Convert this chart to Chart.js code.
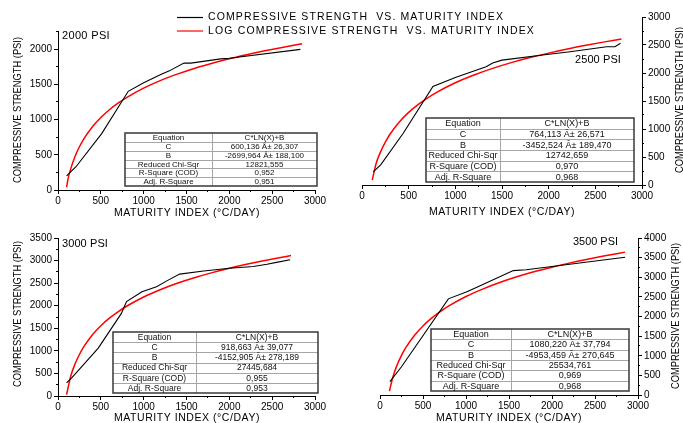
<!DOCTYPE html>
<html>
<head>
<meta charset="utf-8">
<script src="https://cdn.jsdelivr.net/npm/chart.js@4.4.0/dist/chart.umd.min.js"></script>
<style>
    html, body { margin: 0; padding: 0; background: #fff; }
    #wrap { position: relative; width: 683px; height: 423px; overflow: hidden; }
    #wrap canvas { position: absolute; left: 0; top: 0; }
</style>
</head>
<body>
<div id="wrap">
    <canvas id="c2000" width="683" height="423"></canvas>
    <canvas id="c2500" width="683" height="423"></canvas>
    <canvas id="c3000" width="683" height="423"></canvas>
    <canvas id="c3500" width="683" height="423"></canvas>
</div>
<script>
(function () {
    "use strict";

    // Measured compressive strength vs maturity index (black lines)
    const mi2000 = [100, 210, 510, 820, 1000, 1200, 1300, 1470, 1550, 1900, 2000, 2830];
    const cs2000 = [200, 330, 800, 1400, 1520, 1640, 1690, 1800, 1800, 1860, 1870, 1995];
    const mi2500 = [120, 200, 440, 760, 1000, 1260, 1330, 1400, 1500, 1980, 2230, 2620, 2710, 2770];
    const cs2500 = [235, 360, 920, 1760, 1920, 2070, 2110, 2180, 2230, 2330, 2380, 2470, 2470, 2530];
    const mi3000 = [100, 160, 470, 740, 800, 980, 1150, 1270, 1420, 1700, 2000, 2280, 2440, 2550, 2710];
    const cs3000 = [290, 400, 1060, 1830, 2090, 2310, 2420, 2550, 2700, 2770, 2830, 2870, 2920, 2960, 3020];
    const mi3500 = [115, 250, 795, 1010, 1120, 1550, 1700, 2850];
    const cs3500 = [340, 720, 2450, 2630, 2740, 3170, 3190, 3510];

    // Log fit curves (red lines)
    const fitMi2000 = [100, 120, 150, 200, 250, 300, 400, 500, 600, 700, 800, 1000, 1200, 1400, 1600, 1800, 2000, 2200, 2400, 2600, 2850];
    const fitCs2000 = [40, 172, 307, 479, 613, 723, 895, 1029, 1139, 1231, 1312, 1445, 1555, 1647, 1728, 1798, 1861, 1918, 1971, 2019, 2074];
    const fitMi2500 = [110, 150, 200, 250, 300, 400, 500, 600, 700, 800, 1000, 1200, 1400, 1600, 1800, 2000, 2200, 2400, 2600, 2780];
    const fitCs2500 = [90, 376, 596, 766, 906, 1125, 1296, 1435, 1553, 1655, 1826, 1965, 2083, 2185, 2275, 2355, 2428, 2494, 2556, 2607];
    const fitMi3000 = [100, 150, 200, 250, 300, 400, 500, 600, 700, 800, 1000, 1200, 1400, 1600, 1800, 2000, 2200, 2400, 2600, 2720];
    const fitCs3000 = [30, 450, 714, 919, 1087, 1351, 1556, 1724, 1865, 1988, 2193, 2360, 2502, 2625, 2733, 2830, 2917, 2997, 3070, 3112];
    const fitMi3500 = [110, 150, 200, 250, 300, 400, 500, 600, 700, 800, 1000, 1200, 1400, 1600, 1800, 2000, 2200, 2400, 2600, 2850];
    const fitCs3500 = [100, 460, 770, 1011, 1208, 1518, 1760, 1957, 2123, 2268, 2509, 2705, 2872, 3017, 3144, 3257, 3360, 3454, 3540, 3640];

    // Tick labels
    const xTicks = [0, 500, 1000, 1500, 2000, 2500, 3000];
    const yTicks2000 = [0, 500, 1000, 1500, 2000];
    const yTicks2500 = [0, 500, 1000, 1500, 2000, 2500, 3000];
    const yTicks3000 = [0, 500, 1000, 1500, 2000, 2500, 3000, 3500];
    const yTicks3500 = [0, 500, 1000, 1500, 2000, 2500, 3000, 3500, 4000];

    // Fit tables
    const tableRows = ["Equation", "C", "B", "Reduced Chi-Sqr", "R-Square (COD)", "Adj. R-Square"];
    const table2000 = ["C*LN(X)+B", "600,136 Â± 26,307", "-2699,964 Â± 188,100", "12821,555", "0,952", "0,951"];
    const table2500 = ["C*LN(X)+B", "764,113 Â± 26,571", "-3452,524 Â± 189,470", "12742,659", "0,970", "0,968"];
    const table3000 = ["C*LN(X)+B", "918,663 Â± 39,077", "-4152,905 Â± 278,189", "27445,684", "0,955", "0,953"];
    const table3500 = ["C*LN(X)+B", "1080,220 Â± 37,794", "-4953,459 Â± 270,645", "25534,761", "0,969", "0,968"];

    const legendLabels = ["COMPRESSIVE STRENGTH  VS. MATURITY INDEX", "LOG COMPRESSIVE STRENGTH  VS. MATURITY INDEX"];
    const xTitle = "MATURITY INDEX (°C/DAY)";
    const yTitle = "COMPRESSIVE STRENGTH (PSI)";

    const FONT = '"Liberation Sans", Arial, sans-serif';
    const W = 683, H = 423;

    const zip = (xs, ys) => xs.map((x, i) => ({ x: x, y: ys[i] }));

    // draw text, optionally stretched (letter spacing) to a given width
    function put(ctx, text, x, y, size, opt) {
        opt = opt || {};
        ctx.save();
        ctx.font = size + "px " + FONT;
        ctx.fillStyle = opt.color || "#000";
        ctx.textBaseline = "middle";
        ctx.textAlign = opt.align || "center";
        ctx.translate(x, y);
        if (opt.rot) ctx.rotate(opt.rot);
        if (opt.width) {
            const w = ctx.measureText(text).width;
            if (w < opt.width && "letterSpacing" in ctx) {
                ctx.letterSpacing = ((opt.width - w) / text.length).toFixed(2) + "px";
            } else {
                ctx.scale(opt.width / w, 1);
            }
        }
        ctx.fillText(text, 0, 0);
        ctx.restore();
    }

    function drawTable(ctx, box, size, values) {
        const [l, t, mid, r, b] = box;
        const h = (b - t) / tableRows.length;
        ctx.save();
        ctx.fillStyle = "#fff";
        ctx.fillRect(l, t, r - l, b - t);
        ctx.strokeStyle = "#a6a6a6";
        ctx.lineWidth = 1;
        ctx.beginPath();
        for (let i = 1; i < tableRows.length; i++) {
            const y = Math.round(t + i * h) + 0.5;
            ctx.moveTo(l, y);
            ctx.lineTo(r, y);
        }
        ctx.moveTo(Math.round(mid) + 0.5, t);
        ctx.lineTo(Math.round(mid) + 0.5, b);
        ctx.stroke();
        ctx.strokeStyle = "#383838";
        ctx.lineWidth = 1.5;
        ctx.strokeRect(l, t, r - l, b - t);
        ctx.restore();
        tableRows.forEach((row, i) => {
            const y = t + (i + 0.5) * h + 0.5;
            put(ctx, row, (l + mid) / 2, y, size, { color: "#111" });
            put(ctx, values[i], (mid + r) / 2, y, size, { color: "#111" });
        });
    }

    // force the size of an axis box and drop the label overflow padding
    const fixSize = (size) => (s) => {
        if (s.isHorizontal()) s.height = size; else s.width = size;
        s.paddingLeft = 0; s.paddingRight = 0; s.paddingTop = 0; s.paddingBottom = 0;
    };
    const useTicks = (values) => (s) => {
        s.ticks = values.map((v) => ({ value: v }));
    };
    const plain = (v) => String(v);

    function makePanel(p) {
        const [left, top, right, bottom] = p.area;
        const minorY = { type: "linear", min: 0, max: p.yMax, position: p.side, afterFit: fixSize(0),
            ticks: { stepSize: 250, display: false },
            grid: { drawOnChartArea: false, tickLength: 2, tickColor: "#000", tickWidth: 1 },
            border: { display: false } };
        const minorX = { type: "linear", min: 0, max: xTicks[xTicks.length - 1], position: "bottom", afterFit: fixSize(0),
            ticks: { stepSize: 250, display: false },
            grid: { drawOnChartArea: false, tickLength: 2, tickColor: "#000", tickWidth: 1 },
            border: { display: false } };
        const ySize = p.side === "left" ? left : W - right;

        new Chart(document.getElementById(p.id), {
            type: "line",
            data: {
                datasets: [
                    {
                        data: zip(p.mx, p.my),
                        borderColor: "#000",
                        borderWidth: 1.1,
                        pointRadius: 0,
                        tension: 0,
                    },
                    {
                        data: zip(p.fx, p.fy),
                        borderColor: "#ff0000",
                        borderWidth: 1.5,
                        pointRadius: 0,
                        cubicInterpolationMode: "monotone",
                    },
                ],
            },
            options: {
                responsive: false,
                animation: false,
                events: [],
                layout: {
                    padding: {
                        left: p.side === "left" ? 0 : left,
                        right: p.side === "right" ? 0 : W - right,
                        top: top,
                        bottom: 0,
                    },
                },
                plugins: { legend: { display: false }, tooltip: { enabled: false } },
                scales: {
                    // minor axes first so they sit right on the plot edge
                    xm: minorX,
                    x: {
                        type: "linear", min: 0, max: xTicks[xTicks.length - 1], position: "bottom",
                        afterFit: fixSize(H - bottom), afterBuildTicks: useTicks(xTicks),
                        ticks: { autoSkip: false, maxRotation: 0, color: "#000", padding: 1, callback: plain,
                            font: { family: FONT, size: 10 } },
                        grid: { drawOnChartArea: false, tickLength: 4, tickColor: "#000", tickWidth: 1 },
                        border: { color: "#000", width: 1 },
                    },
                    ym: minorY,
                    y: {
                        type: "linear", min: 0, max: p.yMax, position: p.side,
                        afterFit: fixSize(ySize), afterBuildTicks: useTicks(p.yTicks),
                        ticks: { autoSkip: false, color: "#000", padding: 2, callback: plain,
                            font: { family: FONT, size: 10 } },
                        grid: { drawOnChartArea: false, tickLength: 4, tickColor: "#000", tickWidth: 1 },
                        border: { color: "#000", width: 1 },
                    },
                },
            },
            plugins: [{
                id: "extras",
                afterDraw(chart) {
                    const ctx = chart.ctx;
                    drawTable(ctx, p.table, p.tableFont, p.tableValues);
                    put(ctx, p.label, p.labelPos[0], p.labelPos[1], 11, { align: "left", width: p.labelPos[2] });
                    put(ctx, xTitle, p.xTitlePos[0], p.xTitlePos[1], 10.5, { width: 146 });
                    put(ctx, yTitle, p.yTitlePos[0], p.yTitlePos[1], 10.5, { rot: -Math.PI / 2, width: 146 });
                    if (p.legend) {
                        ctx.save();
                        ctx.lineWidth = 1.2;
                        ctx.strokeStyle = "#000";
                        ctx.beginPath(); ctx.moveTo(177, 17.5); ctx.lineTo(203, 17.5); ctx.stroke();
                        ctx.strokeStyle = "#ff0000";
                        ctx.beginPath(); ctx.moveTo(177, 31); ctx.lineTo(203, 31); ctx.stroke();
                        ctx.restore();
                        put(ctx, legendLabels[0], 208, 17, 10.5, { align: "left", width: 296 });
                        put(ctx, legendLabels[1], 208, 31, 10.5, { align: "left", width: 327 });
                    }
                },
            }],
        });
    }

    makePanel({
        id: "c2000", label: "2000 PSI", mx: mi2000, my: cs2000, fx: fitMi2000, fy: fitCs2000,
        yMax: 2250, yTicks: yTicks2000, side: "left", area: [58, 31.4, 315, 190],
        table: [125, 133, 212, 317, 186], tableFont: 8, tableValues: table2000,
        labelPos: [62, 36, 48], xTitlePos: [187, 213], yTitlePos: [18, 110], legend: true,
    });
    makePanel({
        id: "c2500", label: "2500 PSI", mx: mi2500, my: cs2500, fx: fitMi2500, fy: fitCs2500,
        yMax: 3000, yTicks: yTicks2500, side: "right", area: [362, 17, 642, 185],
        table: [426, 118, 500, 634, 182], tableFont: 9, tableValues: table2500,
        labelPos: [575, 60, 46], xTitlePos: [502, 212], yTitlePos: [680, 100],
    });
    makePanel({
        id: "c3000", label: "3000 PSI", mx: mi3000, my: cs3000, fx: fitMi3000, fy: fitCs3000,
        yMax: 3500, yTicks: yTicks3000, side: "left", area: [58, 238, 315, 396],
        table: [113, 332, 196, 318, 393], tableFont: 8.5, tableValues: table3000,
        labelPos: [62, 244, 46], xTitlePos: [187, 418], yTitlePos: [18, 314],
    });
    makePanel({
        id: "c3500", label: "3500 PSI", mx: mi3500, my: cs3500, fx: fitMi3500, fy: fitCs3500,
        yMax: 4000, yTicks: yTicks3500, side: "right", area: [380, 238, 638, 395],
        table: [431, 329, 511, 629, 391], tableFont: 9, tableValues: table3500,
        labelPos: [573, 242, 45], xTitlePos: [509, 418], yTitlePos: [676, 316],
    });
})();
</script>
</body>
</html>
